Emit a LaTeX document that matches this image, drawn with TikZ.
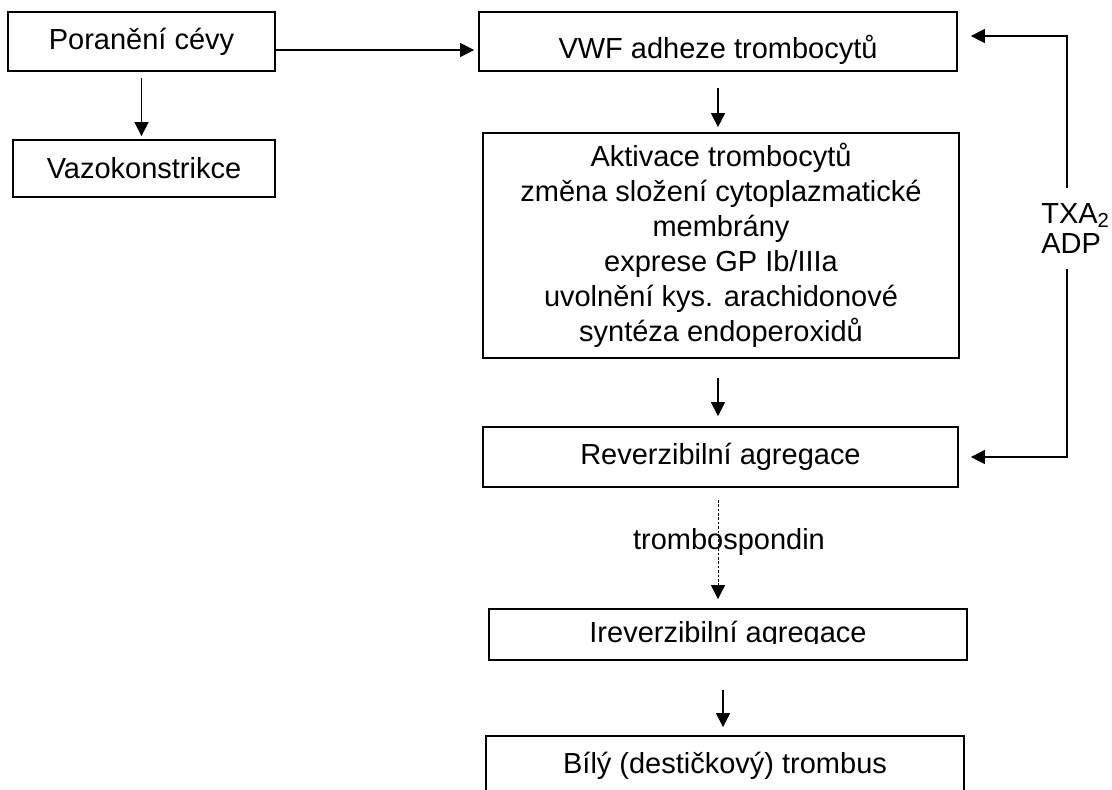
\documentclass[tikz,border=0pt]{standalone}
\usepackage{fontspec}
\setmainfont{Liberation Sans}
\usetikzlibrary{arrows.meta, positioning, calc}

\begin{document}
\begin{tikzpicture}[x=0.02cm, y=-0.02cm, >={Triangle[length=0.28cm, width=0.28cm]},
  every node/.style={font=\fontsize{16.5}{19.9}\selectfont},
  box/.style={draw, line width=1pt, inner sep=0pt, align=center},
  arr/.style={->, line width=0.6pt}
]
  \useasboundingbox (0,0) rectangle (1112,789);

  % left column
  \node[box, minimum width=5.34cm, minimum height=1.18cm] (pcevy) at (141.5,41.5) {Poranění cévy};
  \node[box, minimum width=5.24cm, minimum height=1.14cm] (vazo) at (144,168.5) {Vazokonstrikce};

  % main column
  \node[box, minimum width=9.56cm, minimum height=1.18cm] (vwf) at (718,41.5)
    {\raisebox{-0.16cm}[\height][\depth]{VWF adheze trombocytů}};
  \node[box, minimum width=9.52cm, minimum height=4.5cm] (aktiv) at (721,245.5)
    {Aktivace trombocytů\\změna složení cytoplazmatické\\membrány\\exprese GP Ib/IIIa\\uvolnění kys. arachidonové\\syntéza endoperoxidů};
  \node[box, minimum width=9.5cm, minimum height=1.2cm] (rever) at (720.5,457) {Reverzibilní agregace};
  \node (tromb) at (729,542) {trombospondin};
  \node[box, minimum width=9.56cm, minimum height=1.02cm] (irever) at (728,634.5) {Ireverzibilní agregace};
  \node[box, minimum width=9.56cm, minimum height=1.2cm] (bily) at (725,766) {Bílý (destičkový) trombus};

  % feedback label
  \node[anchor=west, align=left, inner sep=0pt, minimum height=1.6cm,
        font=\fontsize{16.5}{17.5}\selectfont] (fb) at (1041,228.5) {TXA\textsubscript{2}\\ADP};
  \coordinate (fbx) at (1067,0);

  % text of the box is cut below the baseline
  \fill[white] ([xshift=0.05cm, yshift=-0.03cm]irever.base west) rectangle ([xshift=-0.05cm, yshift=0.05cm]irever.south east);

  \draw[arr, shorten <=0.12cm, shorten >=0.06cm] (pcevy.south) -- (pcevy.south |- vazo.north);
  \draw[arr, shorten >=0.08cm] ([yshift=-0.17cm]pcevy.east) -- ([yshift=-0.17cm]vwf.west);
  \draw[arr, shorten <=0.32cm, shorten >=0.1cm] (vwf.south) -- (vwf.south |- aktiv.north);
  \draw[arr, shorten <=0.38cm, shorten >=0.2cm] (aktiv.south -| vwf.south) -- (rever.north -| vwf.south);
  \draw[arr, line width=0.5pt, dash pattern=on 1.5pt off 1pt, shorten <=0.24cm, shorten >=0.18cm] (rever.south -| vwf.south) -- (irever.north -| vwf.south);
  \draw[arr, shorten <=0.58cm, shorten >=0.16cm] ([xshift=-0.1cm]irever.south) -- ([xshift=-0.1cm]irever.south |- bily.north);

  % feedback loop
  \draw[arr, shorten >=0.26cm] (fb.north -| fbx) |- ([yshift=0.11cm]vwf.east);
  \draw[arr, shorten >=0.24cm] (fb.south -| fbx) |- (rever.east);
\end{tikzpicture}
\end{document}
